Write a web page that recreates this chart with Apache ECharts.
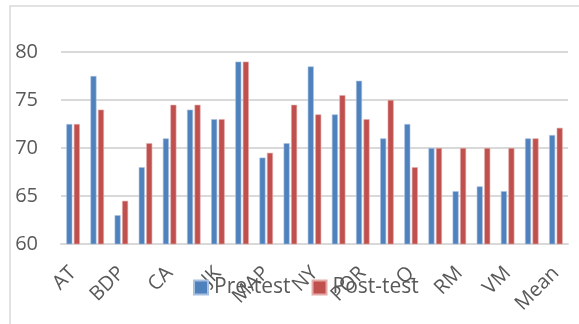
<!DOCTYPE html>
<html><head><meta charset="utf-8">
<script src="https://cdn.jsdelivr.net/npm/echarts@6/dist/echarts.min.js"></script>
<style>html,body{margin:0;padding:0;background:#fff}#c{width:579px;height:324px}</style>
</head><body><div id="c"></div>
<script>
var categories = ['AT','BB','BDP','BUR','CA','DE','JK','LA','MAP','MIN','NY','PAR','POR','PRO','Q','RBS','RM','SF','VM','WA','Mean'];
var preTest  = [72.5,77.5,63,68,71,74,73,79,69,70.5,78.5,73.5,77,71,72.5,70,65.5,66,65.5,71,71.35];
var postTest = [72.5,74,64.5,70.5,74.5,74.5,73,79,69.5,74.5,73.5,75.5,73,75,68,70,70,70,70,71,72.1];
var yTicks = [60,65,70,75,80];

var chart = echarts.init(document.getElementById('c'), null, {renderer:'canvas'});
var font = 'Open Sans';
chart.setOption({
  animation:false,
  graphic:[{type:'rect',shape:{x:10,y:6,width:600,height:400},style:{fill:'none',stroke:'#d9d9d9',lineWidth:1.5},silent:true}],
  grid:{left:61,right:11,top:52,bottom:80,containLabel:false},
  legend:{
    data:['Pre-test','Post-test'],left:188,top:272,padding:5,itemWidth:14,itemHeight:14,itemGap:21,
    icon:'rect',textStyle:{fontFamily:font,fontSize:21,color:'#595959',padding:[0,0,0,1]}
  },
  xAxis:{
    type:'category',data:categories,
    axisLine:{lineStyle:{color:'#d9d9d9',width:2}},
    axisTick:{show:false},
    axisLabel:{interval:1,rotate:45,margin:26,fontFamily:font,fontSize:20,color:'#595959'}
  },
  yAxis:{
    type:'value',min:yTicks[0],max:yTicks[yTicks.length-1],interval:5,
    axisLine:{show:false},axisTick:{show:false},
    axisLabel:{fontFamily:font,fontSize:20,color:'#595959',margin:23},
    splitLine:{lineStyle:{color:'#d9d9d9',width:2}}
  },
  series:[
    {name:'Pre-test',type:'bar',data:preTest,barWidth:6,barGap:'25%',
     itemStyle:{color:'#4F81BD',borderColor:'#a9c1e0',borderWidth:0.6}},
    {name:'Post-test',type:'bar',data:postTest,barWidth:6,barGap:'25%',
     itemStyle:{color:'#C0504D',borderColor:'#e3aaa8',borderWidth:0.6}}
  ]
});
</script></body></html>
